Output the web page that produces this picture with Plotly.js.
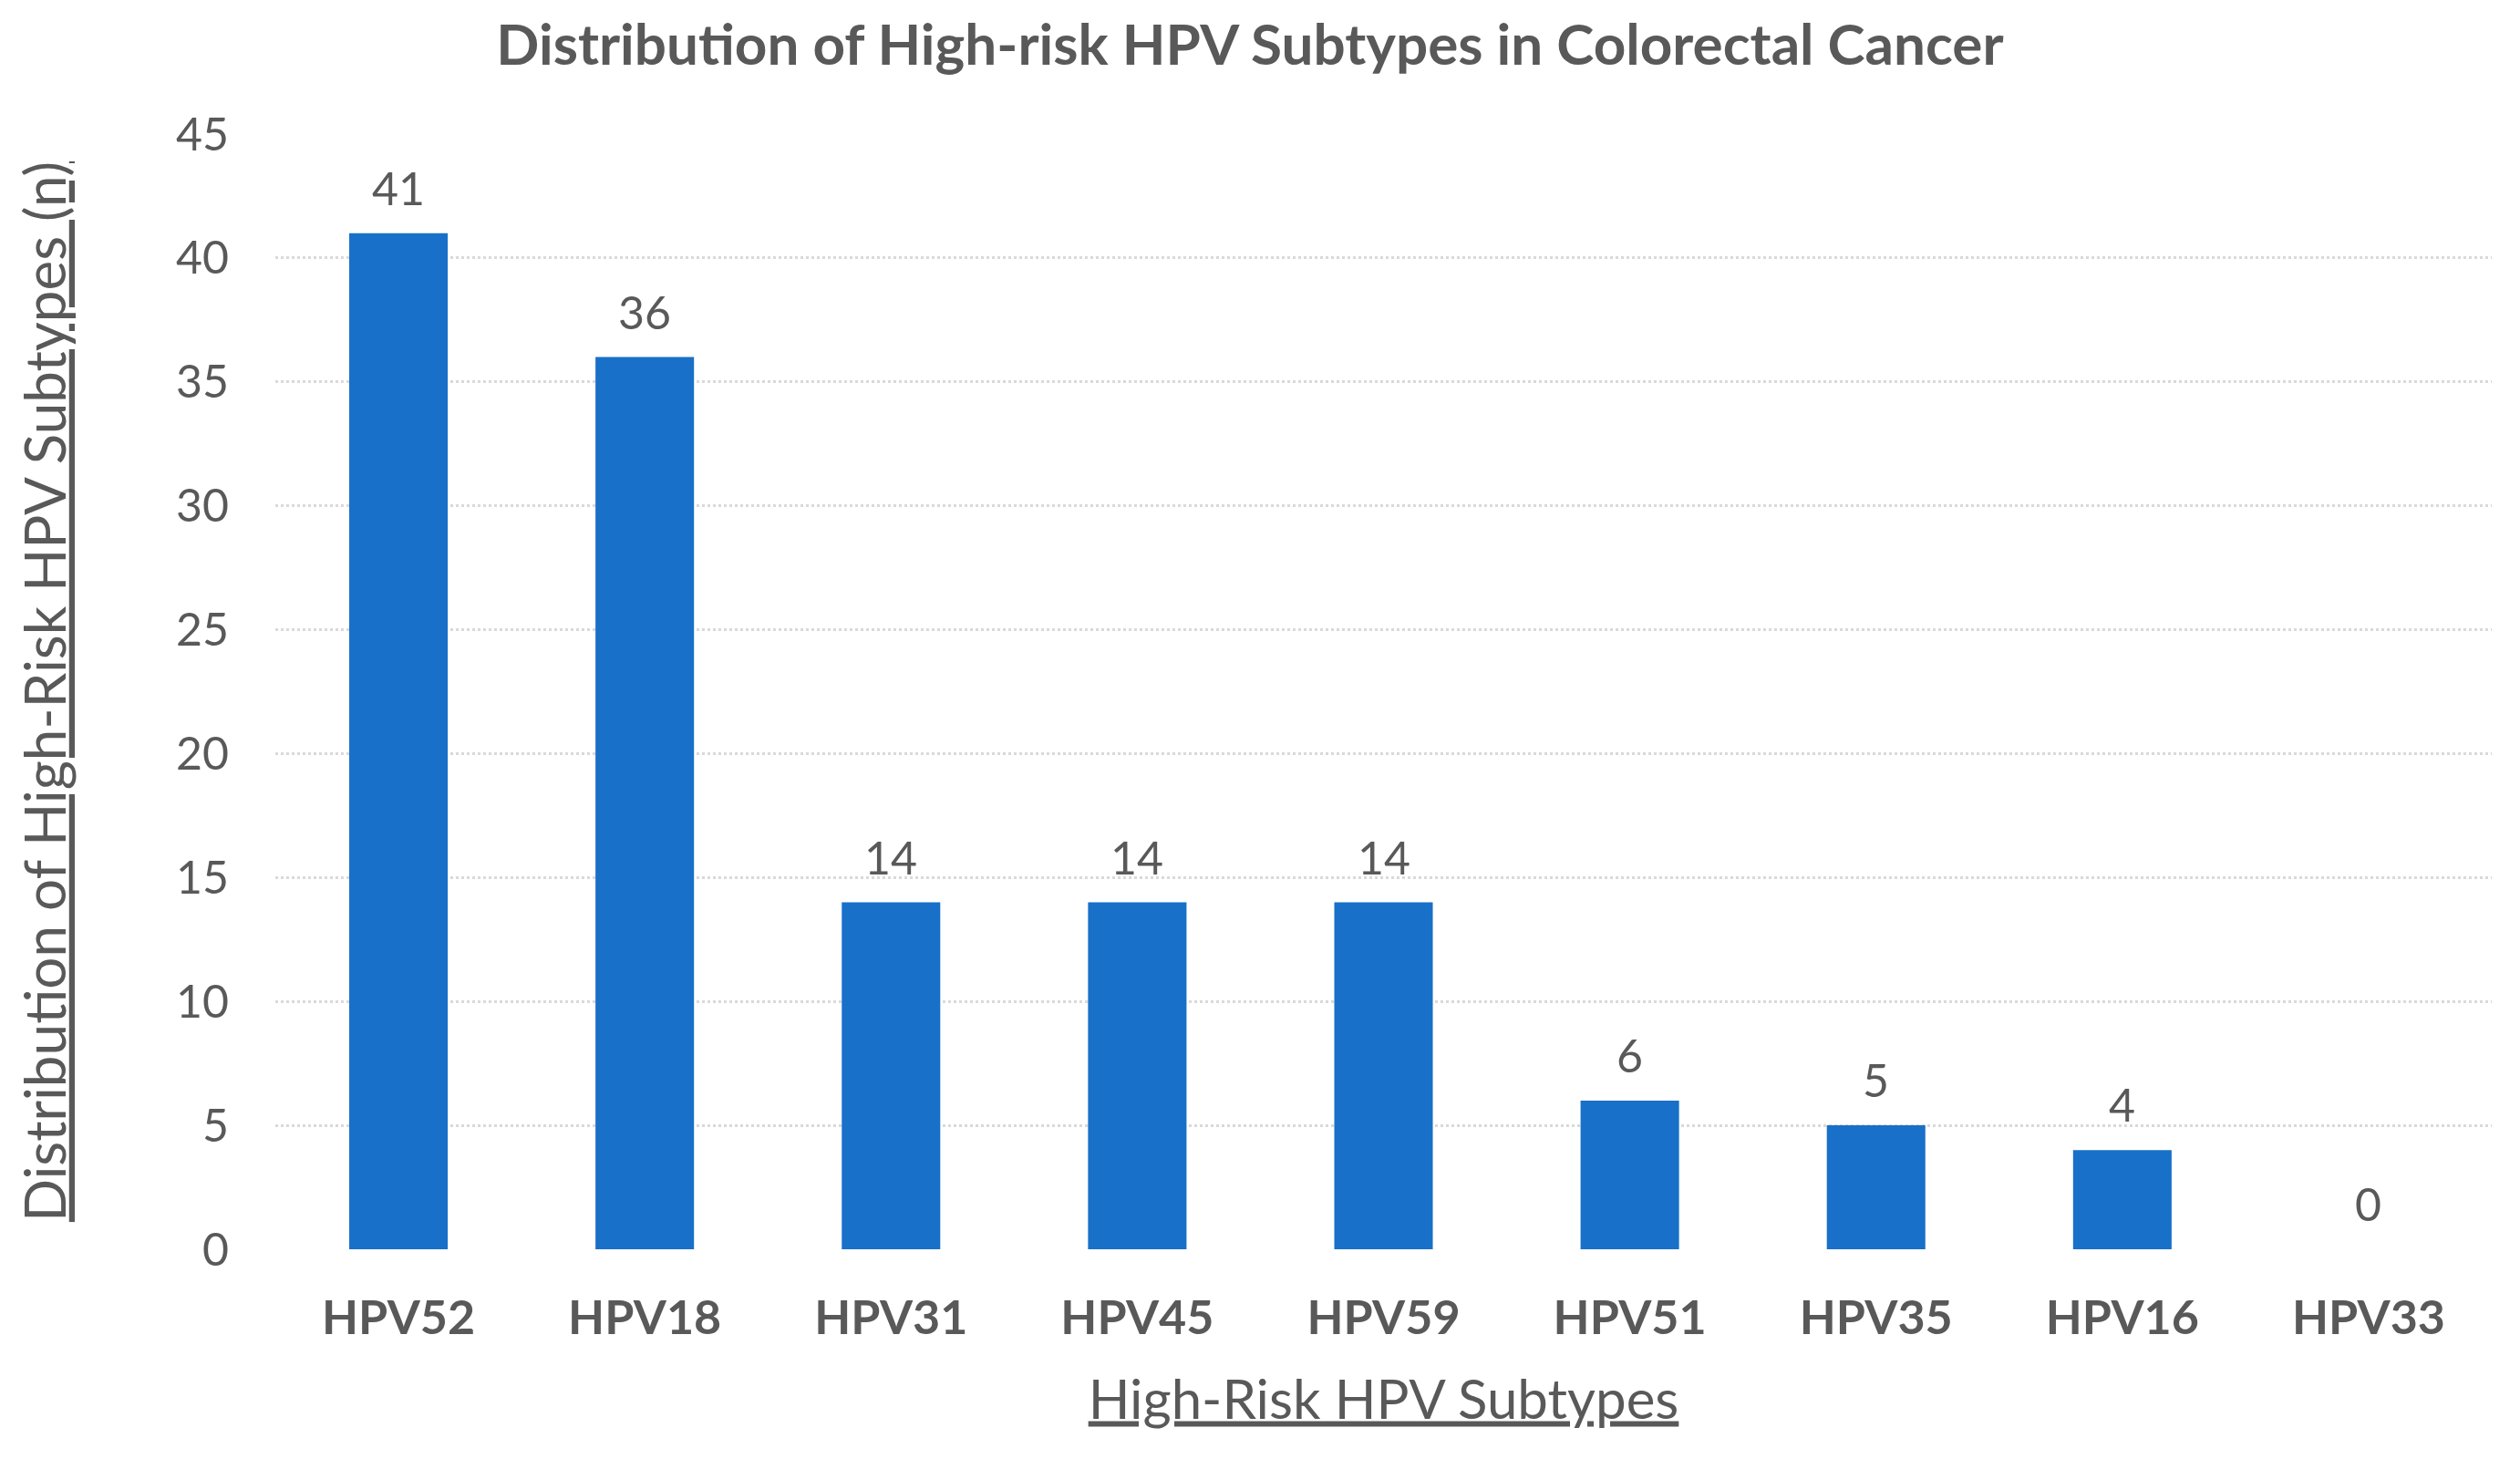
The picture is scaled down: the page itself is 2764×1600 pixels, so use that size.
<!DOCTYPE html>
<html>
<head>
<meta charset="utf-8">
<script src="https://cdn.plot.ly/plotly-3.0.1.min.js"></script>
<style>html,body{margin:0;padding:0;background:#fff;}#chart{width:2764px;height:1600px;}</style>
</head>
<body>
<div id="chart"></div>
<script>
const categories = ["HPV52","HPV18","HPV31","HPV45","HPV59","HPV51","HPV35","HPV16","HPV33"];
const counts = [41, 36, 14, 14, 14, 6, 5, 4, 0];
const yTicks = [0, 5, 10, 15, 20, 25, 30, 35, 40, 45];

const FONT = "Lato, 'Open Sans', sans-serif";
const GRAY = "#595959";

const trace = {
  type: "bar",
  x: categories,
  y: counts,
  marker: {color: "#1870C8"},
  hoverinfo: "x+y"
};

const annotations = categories.map((c, i) => ({
  x: c, y: counts[i], xref: "x", yref: "y",
  text: String(counts[i]),
  showarrow: false, yanchor: "bottom", yshift: 18,
  font: {family: FONT, size: 50, color: GRAY}
}));

const layout = {
  width: 2764, height: 1600,
  margin: {l: 302, r: 31, t: 147, b: 230},
  paper_bgcolor: "#fff", plot_bgcolor: "#fff",
  bargap: 0.6,
  showlegend: false,
  title: {
    text: "<b>Distribution of High-risk HPV Subtypes in Colorectal Cancer</b>",
    font: {family: FONT, size: 62, color: GRAY},
    x: 0.496, xanchor: "center", y: 0.969, yanchor: "middle", yref: "container"
  },
  xaxis: {
    type: "category",
    tickfont: {family: FONT, size: 52, color: GRAY, weight: "bold"},
    tickvals: categories,
    ticktext: categories.map(c => "<b>" + c + "</b>"),
    showgrid: false, showline: false, zeroline: false,
    ticks: "", ticklabelstandoff: 40,
    title: {
      text: '<span style="text-decoration:underline">High-Risk HPV Subtypes</span>',
      font: {family: FONT, size: 60, color: GRAY},
      standoff: 40
    },
    automargin: false
  },
  yaxis: {
    range: [0, 45],
    tickvals: yTicks,
    tickfont: {family: FONT, size: 50, color: GRAY},
    showgrid: true, gridcolor: "#d9d9d9", griddash: "dot", gridwidth: 3,
    zeroline: false, showline: false, ticks: "",
    ticklabelstandoff: 50,
    title: {
      text: '<span style="text-decoration:underline">Distribution of High-Risk HPV Subtypes (n)</span>',
      font: {family: FONT, size: 62, color: GRAY},
      standoff: 100
    },
    automargin: false
  },
  annotations: annotations
};

Plotly.newPlot("chart", [trace], layout, {staticPlot: true});
</script>
</body>
</html>
